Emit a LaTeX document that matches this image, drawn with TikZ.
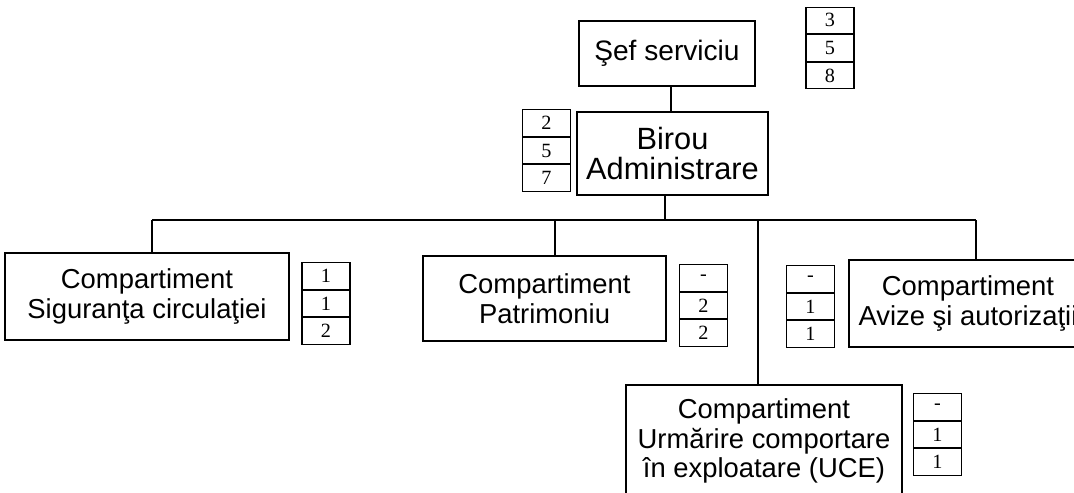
\documentclass[tikz,border=0pt]{standalone}
\usepackage{fontspec}
\setmainfont{Liberation Serif}
\newfontfamily\arialfont{Liberation Sans}
\usetikzlibrary{positioning}

\tikzset{
  unit/.style={draw, line width=0.9pt, align=center, inner sep=0pt,
    font=\arialfont\fontsize{15.6}{17}\selectfont},
  head/.style={unit, font=\arialfont\fontsize{16}{17.5}\selectfont},
  cell/.style={draw, line width=0.6pt, minimum width=0.96cm, minimum height=0.53cm,
    inner sep=0pt, font=\fontsize{11.5}{12}\selectfont}
}

\newcommand{\staffcol}[5]{%
  \node[cell] (#1a) at (#2) {#3};
  \node[cell, below=0pt of #1a] (#1b) {#4};
  \node[cell, below=0pt of #1b] (#1c) {#5};
}

\begin{document}
\begin{tikzpicture}[x=0.02cm, y=-0.02cm]
\clip (0,0) rectangle (1074,493);

\node[head, minimum width=3.52cm, minimum height=1.30cm] (sef) at (667,53.5) {Şef serviciu};
\node[head, minimum width=3.82cm, minimum height=1.66cm, font=\arialfont\fontsize{17.5}{17.5}\selectfont] (birou) at (672.5,153.5) {Birou\\Administrare};

\node[unit, minimum width=5.68cm, minimum height=1.74cm] (sig) at (147,296.5) {Compartiment\\Siguranţa circulaţiei};
\node[unit, minimum width=4.86cm, minimum height=1.70cm] (pat) at (544.5,298.5) {Compartiment\\Patrimoniu};
\node[unit, minimum width=4.76cm, minimum height=1.74cm] (avz) at (968,303.5) {Compartiment\\Avize şi autorizaţii};
\node[unit, minimum width=5.52cm, minimum height=2.24cm] (uce) at (764,441) {Compartiment\\Urmărire comportare\\în exploatare (UCE)};

\staffcol{sefnr}{830,20.3}{3}{5}{8}
\staffcol{biron}{546.5,123}{2}{5}{7}
\staffcol{signr}{326,276}{1}{1}{2}
\staffcol{patnr}{703.5,278}{-}{2}{2}
\staffcol{avznr}{810.5,279}{-}{1}{1}
\staffcol{ucenr}{937.5,407}{-}{1}{1}

\coordinate (top) at (671,0);
\coordinate (bus) at (665,220);
\coordinate (b1) at (152,220);
\coordinate (b2) at (555,220);
\coordinate (b3) at (758,220);
\coordinate (b4) at (976,220);

\draw[line width=0.9pt] (top |- sef.south) -- (top |- birou.north);
\draw[line width=0.9pt] (bus |- birou.south) -- (bus);
\draw[line width=0.9pt] (b1) -- (b4);
\draw[line width=0.9pt] (b1) -- (b1 |- sig.north);
\draw[line width=0.9pt] (b2) -- (b2 |- pat.north);
\draw[line width=0.9pt] (b3) -- (b3 |- uce.north);
\draw[line width=0.9pt] (b4) -- (b4 |- avz.north);
\end{tikzpicture}
\end{document}
